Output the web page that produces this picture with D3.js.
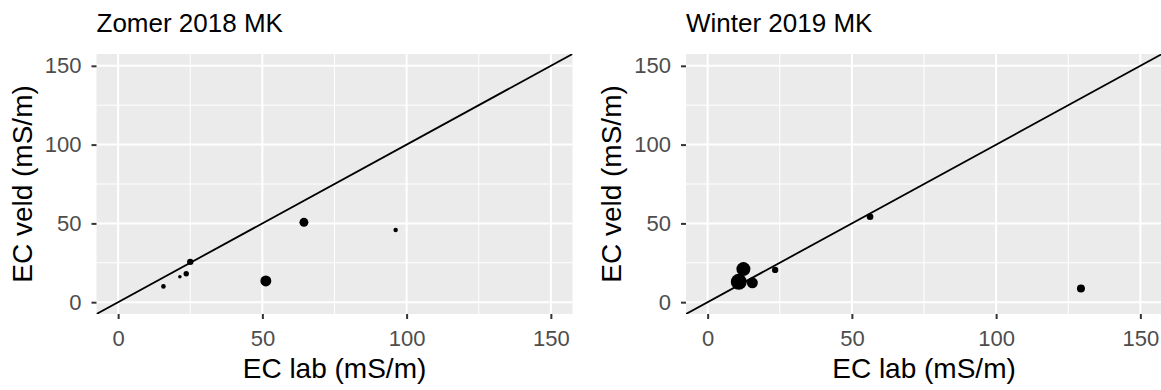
<!DOCTYPE html>
<html>
<head>
<meta charset="utf-8">
<script src="https://cdn.jsdelivr.net/npm/d3@7"></script>
<style>
  html, body { margin: 0; padding: 0; background: #ffffff; }
  svg { display: block; font-family: "Liberation Sans", Arial, sans-serif; }
</style>
</head>
<body>
<svg id="chart" width="1161" height="390"></svg>
<script>
// Panel titles
const panelTitles = ["Zomer 2018 MK", "Winter 2019 MK"];

// Zomer 2018 MK: EC lab, EC veld (mS/m) and marker weight
const zomerLab  = [15.7, 21.4, 23.6, 25.0, 51.2, 64.4, 96.2];
const zomerVeld = [10.0, 16.1, 18.0, 25.6, 13.5, 50.7, 45.8];
const zomerGewicht = [5.3, 3.2, 7.3, 10.2, 30, 20, 4.8];

// Winter 2019 MK
const winterLab  = [10.8, 12.4, 15.5, 23.4, 56.3, 129.4];
const winterVeld = [12.9, 21.0, 12.3, 20.5, 54.2, 8.7];
const winterGewicht = [64, 49, 30, 10, 11, 16];

// Axis ticks and labels
const majorTicks = [0, 50, 100, 150];
const minorTicks = [25, 75, 125];
const xTitle = "EC lab (mS/m)";
const yTitle = "EC veld (mS/m)";

const svg = d3.select("#chart");
const domain = [-7.5, 157.5];
const panelTop = 54, panelBottom = 314;
const panelLefts = [96.5, 686];
const panelWidth = 476;

const size = d3.scaleSqrt().domain([0, 64]).range([0, 8]);

const panels = [
  { title: panelTitles[0], lab: zomerLab, veld: zomerVeld, w: zomerGewicht },
  { title: panelTitles[1], lab: winterLab, veld: winterVeld, w: winterGewicht }
];

panels.forEach((p, i) => {
  const left = panelLefts[i];
  const x = d3.scaleLinear().domain(domain).range([left, left + panelWidth]);
  const y = d3.scaleLinear().domain(domain).range([panelBottom, panelTop]);
  const g = svg.append("g");

  // panel background
  g.append("rect")
    .attr("x", left).attr("y", panelTop)
    .attr("width", panelWidth).attr("height", panelBottom - panelTop)
    .attr("fill", "#EBEBEB");

  // minor grid
  minorTicks.forEach(t => {
    g.append("line").attr("x1", x(t)).attr("x2", x(t))
      .attr("y1", panelTop).attr("y2", panelBottom)
      .attr("stroke", "#fff").attr("stroke-width", 1);
    g.append("line").attr("y1", y(t)).attr("y2", y(t))
      .attr("x1", left).attr("x2", left + panelWidth)
      .attr("stroke", "#fff").attr("stroke-width", 1);
  });
  // major grid
  majorTicks.forEach(t => {
    g.append("line").attr("x1", x(t)).attr("x2", x(t))
      .attr("y1", panelTop).attr("y2", panelBottom)
      .attr("stroke", "#fff").attr("stroke-width", 2);
    g.append("line").attr("y1", y(t)).attr("y2", y(t))
      .attr("x1", left).attr("x2", left + panelWidth)
      .attr("stroke", "#fff").attr("stroke-width", 2);
  });

  // clip region for the 1:1 line
  const clipId = "clip" + i;
  svg.append("clipPath").attr("id", clipId)
    .append("rect").attr("x", left).attr("y", panelTop)
    .attr("width", panelWidth).attr("height", panelBottom - panelTop);

  // 1:1 reference line
  g.append("line")
    .attr("clip-path", `url(#${clipId})`)
    .attr("x1", x(domain[0])).attr("y1", y(domain[0]))
    .attr("x2", x(domain[1])).attr("y2", y(domain[1]))
    .attr("stroke", "#000").attr("stroke-width", 1.8);

  // points
  g.selectAll("circle.pt")
    .data(p.lab.map((v, k) => ({ lab: v, veld: p.veld[k], w: p.w[k] })))
    .join("circle")
    .attr("class", "pt")
    .attr("cx", d => x(d.lab))
    .attr("cy", d => y(d.veld))
    .attr("r", d => size(d.w))
    .attr("fill", "#000");

  // axes
  const xAxis = d3.axisBottom(x).tickValues(majorTicks).tickSize(5).tickPadding(11);
  const yAxis = d3.axisLeft(y).tickValues(majorTicks).tickSize(5).tickPadding(10);

  const gx = g.append("g").attr("transform", `translate(0,${panelBottom})`).call(xAxis);
  const gy = g.append("g").attr("transform", `translate(${left},0)`).call(yAxis);
  [gx, gy].forEach(a => {
    a.select(".domain").remove();
    a.selectAll(".tick line").attr("stroke", "#333333").attr("stroke-width", 2);
    a.selectAll(".tick text")
      .attr("fill", "#4D4D4D")
      .style("font-size", "22px")
      .style("font-family", "'Liberation Sans', Arial, sans-serif");
  });
  gx.selectAll(".tick text").attr("dy", "0.71em");

  // panel title
  g.append("text")
    .attr("x", left).attr("y", 32)
    .attr("fill", "#000")
    .style("font-size", "26px")
    .text(p.title);

  // axis titles
  g.append("text")
    .attr("x", left + panelWidth / 2).attr("y", 378)
    .attr("text-anchor", "middle")
    .attr("fill", "#000")
    .style("font-size", "28px")
    .text(xTitle);

  const yTitleX = left - 65;
  g.append("text")
    .attr("transform", `translate(${yTitleX},${(panelTop + panelBottom) / 2}) rotate(-90)`)
    .attr("text-anchor", "middle")
    .attr("fill", "#000")
    .style("font-size", "28px")
    .text(yTitle);
});
</script>
</body>
</html>
